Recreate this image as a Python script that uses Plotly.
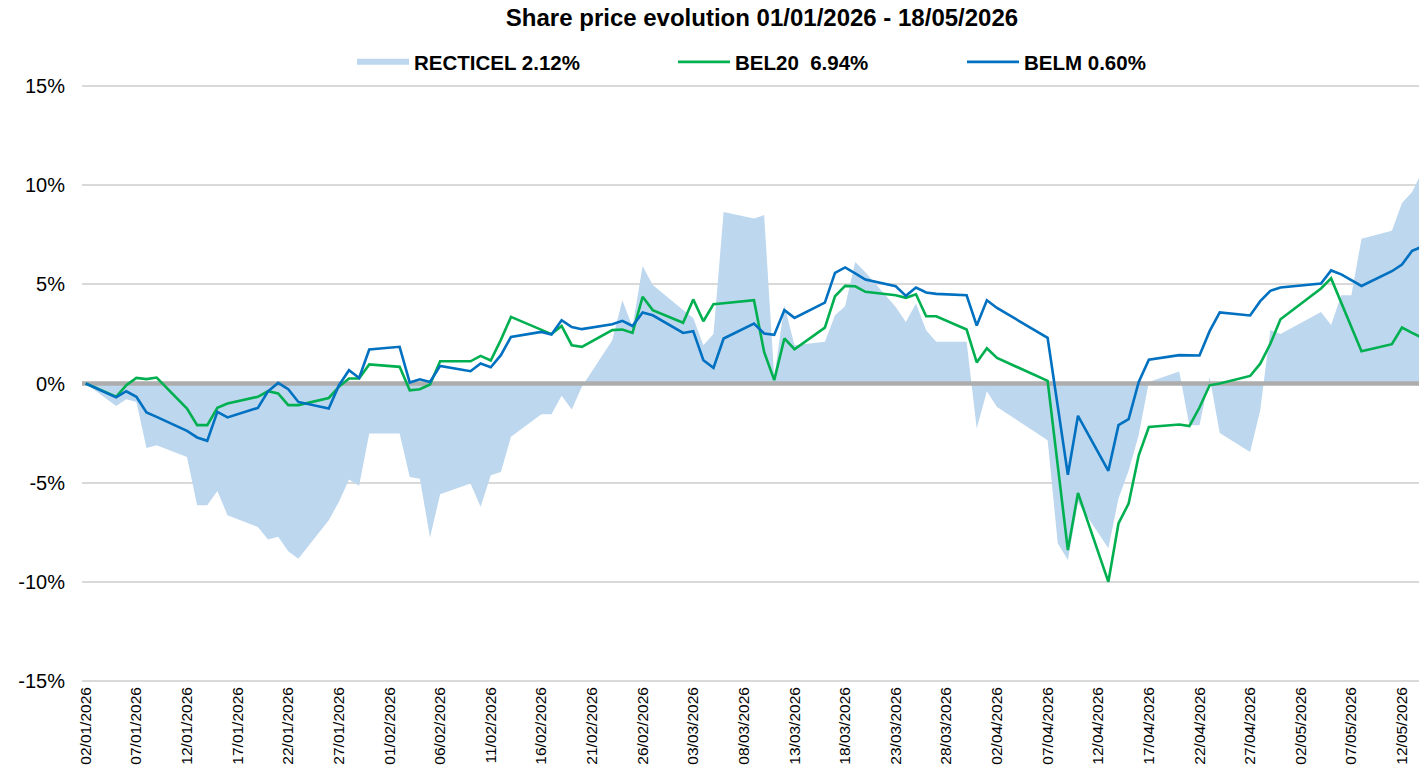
import plotly.graph_objects as go

# ---------------- data ----------------
dates = [
    "2026-01-02", "2026-01-05", "2026-01-06", "2026-01-07", "2026-01-08", "2026-01-09",
    "2026-01-12", "2026-01-13", "2026-01-14", "2026-01-15", "2026-01-16",
    "2026-01-19", "2026-01-20", "2026-01-21", "2026-01-22", "2026-01-23",
    "2026-01-26", "2026-01-27", "2026-01-28", "2026-01-29", "2026-01-30",
    "2026-02-02", "2026-02-03", "2026-02-04", "2026-02-05", "2026-02-06",
    "2026-02-09", "2026-02-10", "2026-02-11", "2026-02-12", "2026-02-13",
    "2026-02-16", "2026-02-17", "2026-02-18", "2026-02-19", "2026-02-20",
    "2026-02-23", "2026-02-24", "2026-02-25", "2026-02-26", "2026-02-27",
    "2026-03-02", "2026-03-03", "2026-03-04", "2026-03-05", "2026-03-06",
    "2026-03-09", "2026-03-10", "2026-03-11", "2026-03-12", "2026-03-13",
    "2026-03-16", "2026-03-17", "2026-03-18", "2026-03-19", "2026-03-20",
    "2026-03-23", "2026-03-24", "2026-03-25", "2026-03-26", "2026-03-27",
    "2026-03-30", "2026-03-31", "2026-04-01", "2026-04-02",
    "2026-04-07", "2026-04-08", "2026-04-09", "2026-04-10",
    "2026-04-13", "2026-04-14", "2026-04-15", "2026-04-16", "2026-04-17",
    "2026-04-20", "2026-04-21", "2026-04-22", "2026-04-23", "2026-04-24",
    "2026-04-27", "2026-04-28", "2026-04-29", "2026-04-30",
    "2026-05-04", "2026-05-05", "2026-05-06", "2026-05-07", "2026-05-08",
    "2026-05-11", "2026-05-12", "2026-05-13", "2026-05-14",
]

recticel = [
    0.00, -1.13, -0.79, -0.93, -3.25, -3.11,
    -3.70, -6.14, -6.14, -5.42, -6.64,
    -7.23, -7.87, -7.73, -8.46, -8.83,
    -6.89, -5.97, -4.84, -5.16, -2.52,
    -2.52, -4.71, -4.80, -7.77, -5.58,
    -5.04, -6.22, -4.62, -4.46, -2.69,
    -1.55, -1.55, -0.62, -1.31, -0.17,
    2.18, 4.20, 2.85, 5.92, 4.96,
    3.70, 3.30, 1.93, 2.49, 8.65,
    8.32, 8.49, 0.33, 3.95, 1.93,
    2.10, 3.44, 3.90, 6.13, 5.61,
    3.86, 3.10, 4.03, 2.69, 2.10,
    2.10, -2.27, -0.39, -1.18,
    -2.86, -8.05, -8.90, -6.00,
    -8.30, -5.80, -4.40, -2.60, 0.08,
    0.60, -2.10, -2.10, 0.33, -2.50,
    -3.45, -1.35, 2.70, 2.50,
    3.60, 2.95, 4.45, 4.45, 7.30,
    7.70, 9.10, 9.65, 10.70,
]

bel20 = [
    0.00, -0.67, -0.09, 0.28, 0.22, 0.30,
    -1.26, -2.10, -2.10, -1.23, -1.01,
    -0.67, -0.39, -0.50, -1.09, -1.09,
    -0.73, -0.17, 0.25, 0.25, 0.96,
    0.84, -0.34, -0.29, -0.05, 1.12,
    1.12, 1.39, 1.16, 2.20, 3.36,
    2.72, 2.49, 2.90, 1.93, 1.85,
    2.69, 2.72, 2.55, 4.37, 3.70,
    3.06, 4.24, 3.14, 4.00, 4.05,
    4.20, 1.59, 0.17, 2.27, 1.73,
    2.82, 4.40, 4.92, 4.90, 4.62,
    4.45, 4.32, 4.50, 3.39, 3.39,
    2.72, 1.06, 1.78, 1.29,
    0.13, -4.10, -8.40, -5.52,
    -10.00, -7.06, -6.05, -3.62, -2.19,
    -2.07, -2.15, -1.21, -0.09, 0.00,
    0.38, 1.00, 2.00, 3.24,
    4.79, 5.30, 4.10, 2.90, 1.63,
    1.98, 2.82, 2.55, 2.30,
]

belm = [
    0.00, -0.70, -0.39, -0.67, -1.46, -1.68,
    -2.39, -2.72, -2.89, -1.43, -1.71,
    -1.23, -0.39, 0.03, -0.29, -0.93,
    -1.26, -0.10, 0.67, 0.28, 1.71,
    1.85, 0.05, 0.21, 0.08, 0.89,
    0.62, 1.01, 0.82, 1.43, 2.35,
    2.60, 2.47, 3.19, 2.85, 2.74,
    2.99, 3.16, 2.90, 3.58, 3.44,
    2.55, 2.64, 1.17, 0.79, 2.27,
    3.02, 2.52, 2.45, 3.70, 3.31,
    4.08, 5.58, 5.85, 5.55, 5.24,
    4.90, 4.42, 4.84, 4.59, 4.52,
    4.45, 2.92, 4.20, 3.81,
    2.30, -1.15, -4.60, -1.63,
    -4.40, -2.10, -1.80, 0.08, 1.20,
    1.43, 1.42, 1.41, 2.64, 3.58,
    3.43, 4.15, 4.67, 4.84,
    5.04, 5.70, 5.50, 5.20, 4.92,
    5.66, 6.00, 6.69, 6.90,
]

series_names = ["RECTICEL 2.12%", "BEL20  6.94%", "BELM 0.60%"]
title_text = "Share price evolution 01/01/2026 - 18/05/2026"
y_tick_values = [-15, -10, -5, 0, 5, 10, 15]
y_tick_labels = ["-15%", "-10%", "-5%", "0%", "5%", "10%", "15%"]
x_range = ["2026-01-01 15:07", "2026-05-13 16:19"]
y_range = [-15.1, 15.1]

# ---------------- styling ----------------
FONT = "Liberation Sans, Arial, sans-serif"
AREA_COLOR = "#BDD7EE"
GREEN = "#00B050"
BLUE = "#0070C0"
W, H = 1419, 771

fig = go.Figure()

fig.add_trace(go.Scatter(
    x=dates, y=recticel, name=series_names[0], mode="none",
    fill="tozeroy", fillcolor=AREA_COLOR, legend="legend",
    hoverinfo="x+y",
))
# zero reference line, drawn above the area but below the lines
fig.add_trace(go.Scatter(
    x=x_range, y=[0, 0], mode="lines", showlegend=False, hoverinfo="skip",
    line=dict(color="#ADADAD", width=4.5),
))
fig.add_trace(go.Scatter(
    x=dates, y=bel20, name=series_names[1], mode="lines",
    line=dict(color=GREEN, width=2.6), legend="legend2",
))
fig.add_trace(go.Scatter(
    x=dates, y=belm, name=series_names[2], mode="lines",
    line=dict(color=BLUE, width=2.6), legend="legend3",
))

legend_common = dict(
    orientation="h", xref="container", yref="container",
    xanchor="left", yanchor="middle", y=1 - 62 / H,
    font=dict(family=FONT, size=20.5, color="#000000", weight="bold"),
    bgcolor="rgba(0,0,0,0)", borderwidth=0, itemwidth=52,
)

# plot area: 15% at y=86, -15% at y=681 (pixels)
px_per_unit = (681 - 86) / 30.0
extra = (y_range[1] - 15) * px_per_unit

fig.update_layout(
    width=W, height=H, autosize=False,
    margin=dict(l=82, r=0, t=86 - extra, b=90 - extra, autoexpand=False),
    paper_bgcolor="white", plot_bgcolor="white",
    font=dict(family=FONT, color="#000000"),
    title=dict(
        text=title_text, x=762 / W, xref="container", xanchor="center",
        y=1 - 18 / H, yref="container", yanchor="middle",
        font=dict(family=FONT, size=24, color="#000000", weight="bold"),
    ),
    legend=dict(legend_common, x=352 / W),
    legend2=dict(legend_common, x=673 / W),
    legend3=dict(legend_common, x=962 / W),
    xaxis=dict(
        type="date", range=x_range,
        tick0="2026-01-02", dtick=5 * 86400000,
        tickformat="%d/%m/%Y", tickangle=-90,
        tickfont=dict(family=FONT, size=15.5, color="#000000"),
        showgrid=False, zeroline=False, showline=False, ticks="",
    ),
    yaxis=dict(
        range=y_range, tickvals=y_tick_values, ticktext=y_tick_labels,
        tickfont=dict(family=FONT, size=20, color="#000000"),
        showgrid=True, gridcolor="#D9D9D9", gridwidth=2,
        zeroline=False, showline=False, ticks="",
        ticklabelstandoff=16,
    ),
    showlegend=True,
)

fig.write_html(
    "out.html",
    config={"displayModeBar": False},
    post_script="document.body.style.margin='0';document.body.style.overflow='hidden';",
)
